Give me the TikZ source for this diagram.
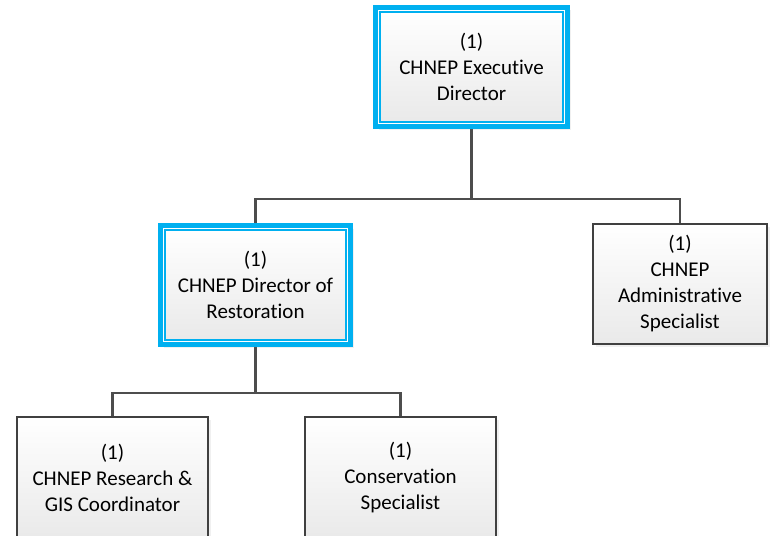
\documentclass[tikz,border=0pt]{standalone}
\usepackage{fontspec}
\setmainfont{Carlito}[Ligatures=NoCommon]
\usetikzlibrary{shadows,backgrounds,calc}
\definecolor{cy}{HTML}{00B0F0}
\definecolor{ln}{HTML}{4D4D4D}
\definecolor{bd}{HTML}{404040}
\begin{document}
\begin{tikzpicture}[x=1pt,y=-1pt,
  box/.style={rectangle, outer sep=0pt, inner sep=0pt, align=center,
    font=\fontsize{21}{26}\selectfont, top color=white, bottom color=gray!17},
  plain/.style={box, draw=bd, line width=2pt,
    drop shadow={shadow xshift=3pt, shadow yshift=-3pt, opacity=0.12}},
  lead/.style={box, draw=cy, line width=2pt},
  band/.style={draw=cy, line width=5pt, fill=white,
    drop shadow={shadow xshift=3pt, shadow yshift=-3pt, opacity=0.12}},
  conn/.style={draw=ln, line width=2.5pt}]
\useasboundingbox (0,0) rectangle (770,535);

\node[lead, minimum width=183pt, minimum height=110pt] (top) at (471.5,67)
  {(1)\\CHNEP Executive\\Director};
\node[lead, minimum width=181pt, minimum height=110pt] (dir) at (255.5,285)
  {(1)\\CHNEP Director of\\Restoration};
\node[plain, minimum width=174pt, minimum height=120pt] (adm) at (680,284)
  {(1)\\CHNEP\\Administrative\\Specialist};
\node[plain, minimum width=191pt, minimum height=122pt] (gis) at (112.5,478)
  {(1)\\CHNEP Research \&\\GIS Coordinator};
\node[plain, minimum width=191pt, minimum height=122pt] (con) at (400.5,478)
  {(1)\\Conservation\\Specialist};

\coordinate (b1) at (472,199);
\coordinate (b2) at (257,393);

\begin{pgfonlayer}{background}
  \draw[conn] (top.south) -- (top.south |- b1);
  \draw[conn] (dir.north) |- (b1) -| (adm.north);
  \draw[conn] (dir.south) -- (dir.south |- b2);
  \draw[conn] (gis.north) |- (b2) -| (con.north);
  \draw[band] ([shift={(-4.5pt,4.5pt)}]top.north west) rectangle ([shift={(4.5pt,-4.5pt)}]top.south east);
  \draw[band] ([shift={(-4.5pt,4.5pt)}]dir.north west) rectangle ([shift={(4.5pt,-4.5pt)}]dir.south east);
\end{pgfonlayer}
\end{tikzpicture}
\end{document}
